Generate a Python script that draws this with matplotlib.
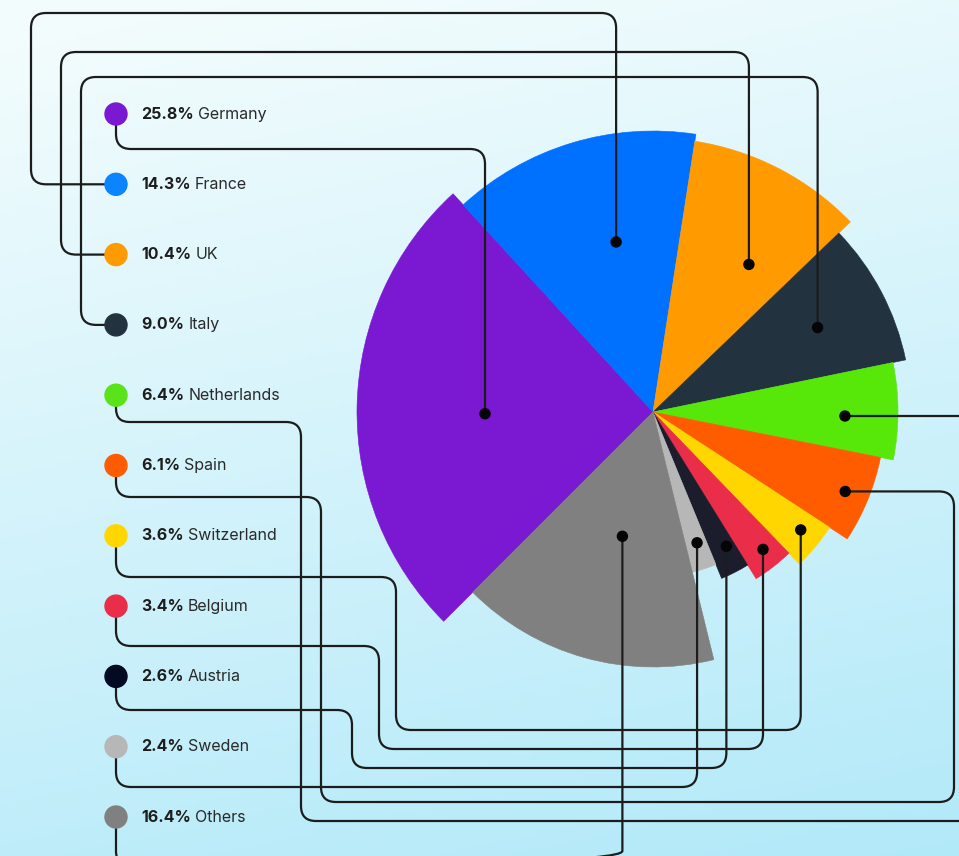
import numpy as np
import matplotlib.pyplot as plt
from matplotlib.patches import Wedge, Circle, PathPatch
from matplotlib.path import Path

# data
countries = ["Germany", "France", "UK", "Italy", "Netherlands", "Spain",
             "Switzerland", "Belgium", "Austria", "Sweden", "Others"]
shares = [25.8, 14.3, 10.4, 9.0, 6.4, 6.1, 3.6, 3.4, 2.6, 2.4, 16.4]
radii = [296, 281, 274, 258, 245, 232, 211, 196, 180, 165, 255]
colors = ["#7a18d2", "#0070ff", "#ff9a00", "#22333f", "#57e80a", "#ff5c00",
          "#ffd600", "#ea2e4a", "#1b1c2c", "#b7b7b7", "#808080"]
legend_colors = ["#7a18d2", "#0a84ff", "#ff9a00", "#22333f", "#5ae21a", "#ff5c00",
                 "#ffd600", "#ea2e4a", "#030a22", "#b7b7b7", "#808080"]

# layout (pixels)
W, H = 959, 856
cx, cy = 653, 412
start = 225.0
dot_frac = [0.48, 0.59, 0.65, 0.52, 0.56, 0.51, 0.42, 0.43, 0.33, 0.44, 0.47]
dot_dist = [168, 174, 176, 185, 192, 208, 189, 176, 153, 138, 128]
leg_x = 116
leg_y0, leg_dy = 114, 70.3


def rounded(points, r=15):
    pts = [np.array(p, float) for p in points]
    verts = [pts[0]]
    codes = [Path.MOVETO]
    for i in range(1, len(pts) - 1):
        p0, p1, p2 = pts[i - 1], pts[i], pts[i + 1]
        l1 = np.linalg.norm(p1 - p0)
        l2 = np.linalg.norm(p2 - p1)
        rr = min(r, l1 / 2, l2 / 2)
        a = p1 - (p1 - p0) / l1 * rr
        b = p1 + (p2 - p1) / l2 * rr
        verts += [a, p1, b]
        codes += [Path.LINETO, Path.CURVE3, Path.CURVE3]
    verts.append(pts[-1])
    codes.append(Path.LINETO)
    return Path(verts, codes)


fig = plt.figure(figsize=(W / 100, H / 100), dpi=100)
ax = fig.add_axes([0, 0, 1, 1])
ax.set_xlim(0, W)
ax.set_ylim(H, 0)
ax.set_aspect("equal")
ax.axis("off")

# background gradient
yy, xx = np.mgrid[0:1:200j, 0:1:200j]
t = np.clip(0.85 * yy + 0.2 * xx - 0.05, 0, 1)
top = np.array([242, 252, 253]) / 255
bot = np.array([178, 233, 249]) / 255
bg = top[None, None, :] * (1 - t[..., None]) + bot[None, None, :] * t[..., None]
ax.imshow(bg, extent=[0, W, H, 0], aspect="auto", zorder=0)

# slices
total = sum(shares)
angles = [start]
for s in shares:
    angles.append(angles[-1] - s / total * 360)

dots = []
for i, s in enumerate(shares):
    a1, a2 = angles[i], angles[i + 1]
    ax.add_patch(Wedge((cx, cy), radii[i], -a1, -a2, facecolor=colors[i],
                       edgecolor=colors[i], lw=0.4, zorder=2))
    am = np.radians(a1 + (a2 - a1) * dot_frac[i])
    dots.append((cx + dot_dist[i] * np.cos(am), cy - dot_dist[i] * np.sin(am)))

# connector routes
ly = [leg_y0 + i * leg_dy for i in range(len(countries))]
routes = []
px, py = dots[0]
routes.append([(leg_x, ly[0]), (leg_x, 149), (px, 149), (px, py)])
for i, (xl, yt) in zip([1, 2, 3], [(31, 13), (61, 52), (81, 77)]):
    px, py = dots[i]
    routes.append([(leg_x, ly[i]), (xl, ly[i]), (xl, yt), (px, yt), (px, py)])
px, py = dots[4]
routes.append([(leg_x, ly[4]), (leg_x, 422), (301, 422), (301, 821), (990, 821)])
routes.append([(px, py), (990, py)])
px, py = dots[5]
routes.append([(leg_x, ly[5]), (leg_x, 497), (321, 497), (321, 802), (954, 802),
               (954, py), (px, py)])
for i, (hy, vx, by) in zip([6, 7, 8], [(577, 396, 730), (646, 379, 749), (710, 352, 768)]):
    px, py = dots[i]
    routes.append([(leg_x, ly[i]), (leg_x, hy), (vx, hy), (vx, by), (px, by), (px, py)])
px, py = dots[9]
routes.append([(leg_x, ly[9]), (leg_x, 787), (px, 787), (px, py)])
px, py = dots[10]
routes.append([(leg_x, ly[10]), (leg_x, 866), (px, 866), (px, py)])

for r in routes:
    ax.add_patch(PathPatch(rounded(r), fill=False, edgecolor="#1c1c1c",
                           lw=1.6, zorder=3, capstyle="round"))

for (px, py) in dots:
    ax.add_patch(Circle((px, py), 5, color="#050505", zorder=4))

# legend
for i, name in enumerate(countries):
    ax.add_patch(Circle((leg_x, ly[i]), 11, color=legend_colors[i], zorder=5))
    t1 = ax.text(141, ly[i], f"{shares[i]:.1f}%", fontsize=11.5, fontweight="bold",
                 family="Inter", color="#1d1d1d", va="center", ha="left", zorder=6)
    ax.annotate(name, xy=(1, 0.5), xycoords=t1, xytext=(3, 0),
                textcoords="offset points", fontsize=11.5, family="Inter",
                color="#2a2a2a", va="center", ha="left", zorder=6)

fig.savefig("out.png", dpi=100)
